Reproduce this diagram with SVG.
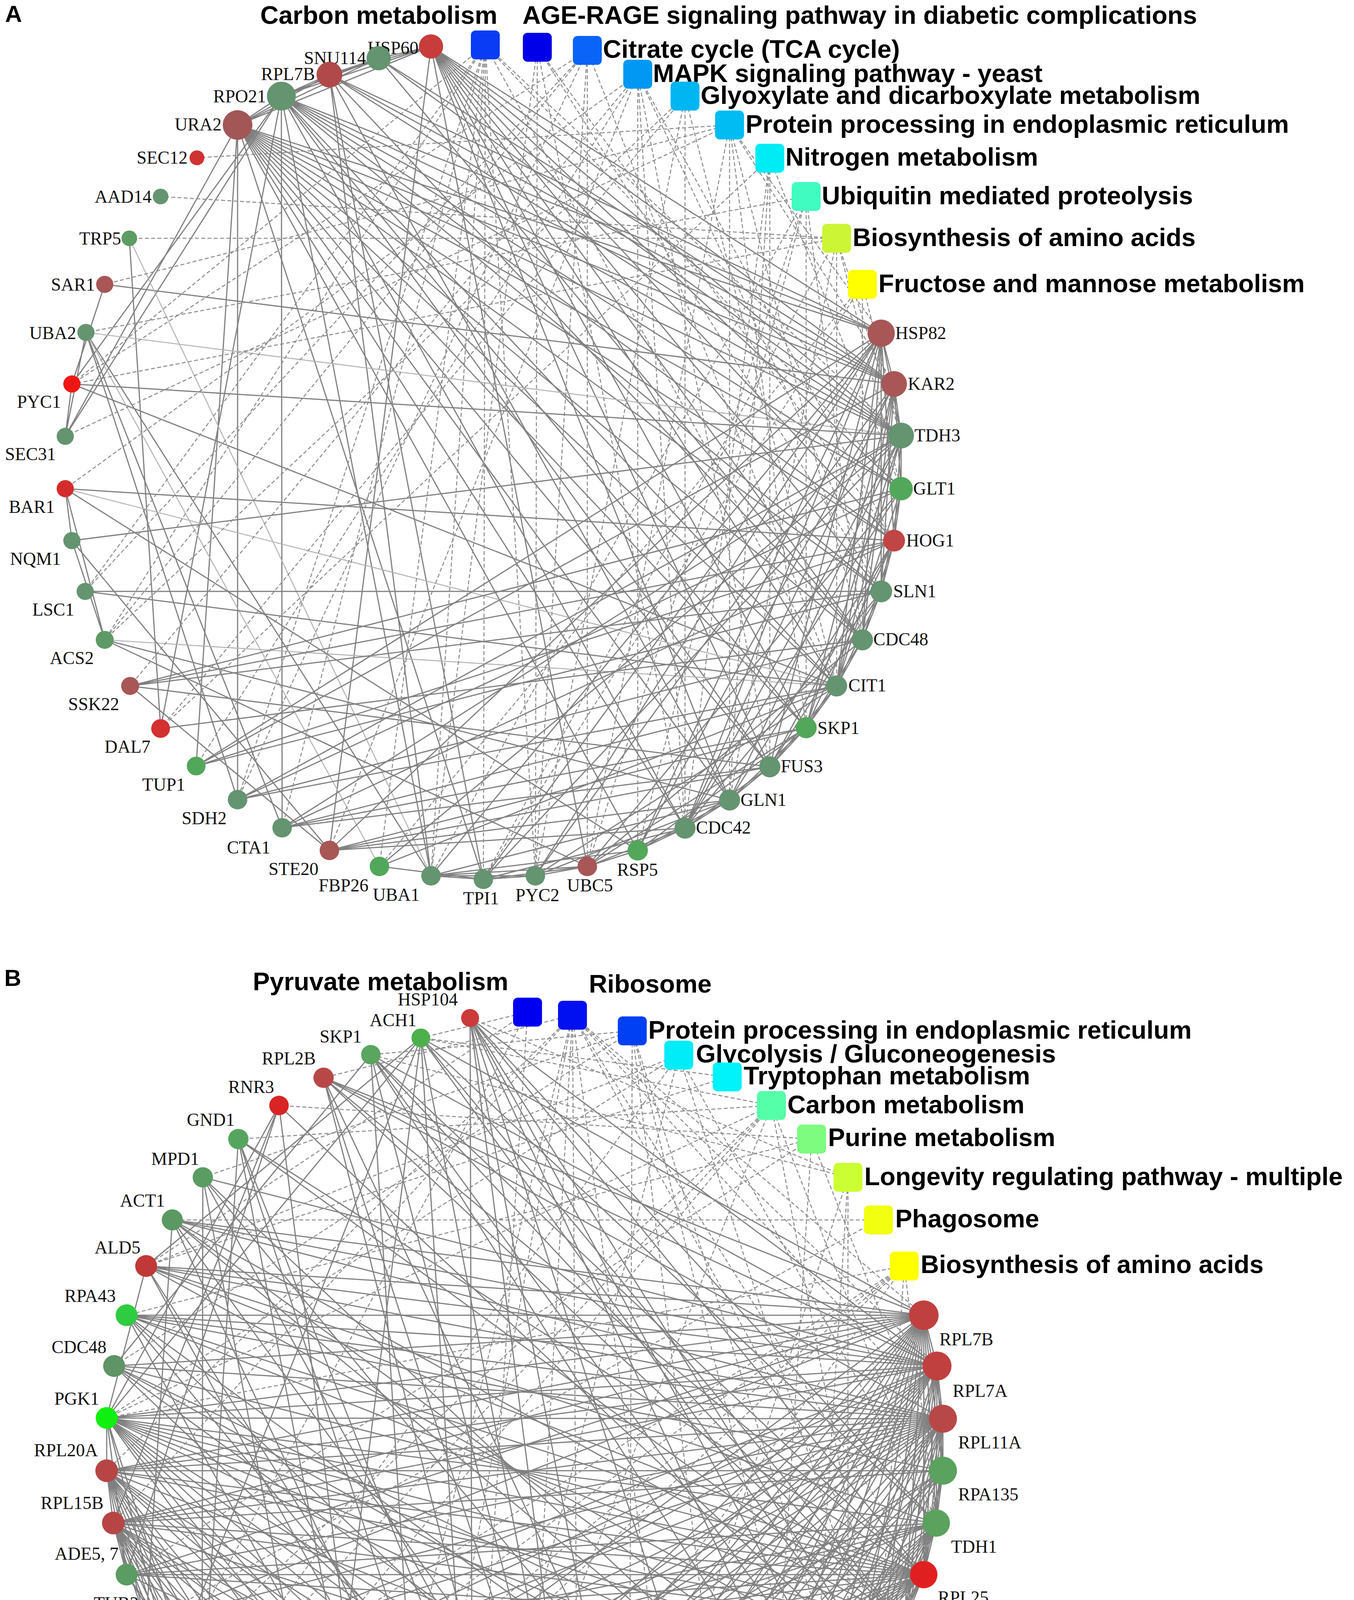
<svg xmlns="http://www.w3.org/2000/svg" width="3465" height="4852" viewBox="0 0 3465 4852">
<style>
.e{stroke:#808080;stroke-width:3;fill:none}
.el{stroke:#b4b4b4;stroke-width:2.6;fill:none}
.d{stroke:#8c8c8c;stroke-width:2.6;fill:none;stroke-dasharray:10 6}
.lbl{font-family:"Liberation Serif","Times New Roman",serif;font-size:46px;fill:#111}
.pw{font-family:"Liberation Sans",Arial,sans-serif;font-weight:bold;font-size:65px;fill:#000}
.pan{font-family:"Liberation Sans",Arial,sans-serif;font-weight:bold;font-size:60px;fill:#000}
</style>
<rect width="3465" height="4852" fill="#fff"/>
<g id="connectors">
<g id="A-solid">
<path class="e" d="M608 320L2255 853M608 320L2288 983M608 320L2306 1115M608 320L2306 1251M608 320L2288 1384M608 320L2255 1514M608 320L2207 1638M608 320L2141 1756M608 320L2063 1863M608 320L1970 1963M608 320L1867 2048M608 320L1753 2120M608 320L1632 2177M608 320L1237 2251M608 320L608 2047M608 320L167 1117M608 320L502 1961M608 320L720 246M608 320L843 191M608 320L969 149M608 320L1103 119"/>
<path class="e" d="M720 246L2255 853M720 246L2288 983M720 246L2306 1115M720 246L2306 1251M720 246L2288 1384M720 246L2255 1514M720 246L2141 1756M720 246L2063 1863M720 246L1970 1963M720 246L1753 2120M720 246L1103 2242M720 246L722 2119M720 246L167 1117M720 246L184 983M720 246L843 191M720 246L969 149M720 246L1103 119M720 246L411 1865"/>
<path class="e" d="M843 191L2255 853M843 191L2306 1115M843 191L2288 983M843 191L1867 2048M843 191L1237 2251M843 191L1103 2242M843 191L969 149M843 191L1103 119M843 191L2207 1638"/>
<path class="e" d="M969 149L1103 119M969 149L2288 983M969 149L2306 1115M969 149L2207 1638"/>
<path class="e" d="M1103 119L2255 853M1103 119L2288 983M1103 119L2306 1115M1103 119L2306 1251M1103 119L2288 1384M1103 119L2255 1514M1103 119L2207 1638M1103 119L2141 1756M1103 119L2063 1863M1103 119L1970 1963M1103 119L1867 2048M1103 119L843 2177M1103 119L1503 2218"/>
<path class="e" d="M268 728L2288 983M268 728L184 983M220 851L608 2047M220 851L722 2119M220 851L1103 2242M220 851L167 1117M331 610L411 1865M184 983L2306 1115M184 983L2141 1756M184 983L167 1117"/>
<path class="el" d="M220 851L971 2218M331 610L1103 2242M220 851L2306 1115M167 1251L2141 1756M268 1638L2141 1756"/>
<path class="e" d="M167 1251L2288 1384M167 1251L184 1384M167 1251L268 1638M167 1251L1632 2177M184 1384L2306 1115M184 1384L268 1638M184 1384L843 2177M218 1514L2141 1756M218 1514L2255 1514M268 1638L1503 2218M268 1638L1867 2048"/>
<path class="e" d="M333 1756L2288 1384M333 1756L2306 1251M333 1756L1970 1963M333 1756L843 2177M333 1756L2255 1514M411 1865L2207 1638M502 1961L2288 1384M502 1961L2255 1514M502 1961L2288 983M502 1961L2255 853"/>
<path class="e" d="M608 2047L2141 1756M608 2047L2306 1251M608 2047L2207 1638M608 2047L2306 1115M722 2119L2063 1863M722 2119L1970 1963M722 2119L2141 1756M722 2119L2288 1384M722 2119L2306 1115"/>
<path class="e" d="M843 2177L2063 1863M843 2177L1970 1963M843 2177L2255 853M843 2177L1867 2048M843 2177L1753 2120M971 2218L2306 1115M971 2218L2141 1756M971 2218L1237 2251"/>
<path class="e" d="M1103 2242L1237 2251M1103 2242L1370 2242M1103 2242L2255 853M1103 2242L1867 2048M1103 2242L1632 2177M1103 2242L1503 2218M1237 2251L1370 2242M1237 2251L2306 1115M1237 2251L2255 853M1237 2251L1753 2120M1237 2251L1503 2218"/>
<path class="e" d="M1370 2242L1503 2218M1370 2242L2141 1756M1370 2242L1867 2048M1370 2242L2255 853M1370 2242L2288 983M1503 2218L1632 2177M1503 2218L2063 1863M1503 2218L2207 1638M1503 2218L2306 1251M1503 2218L1753 2120"/>
<path class="e" d="M1632 2177L1753 2120M1632 2177L2063 1863M1632 2177L2255 853M1632 2177L2288 983M1632 2177L1867 2048M1753 2120L1867 2048M1753 2120L1970 1963M1753 2120L2288 983M1753 2120L2255 853M1753 2120L2306 1251M1753 2120L2255 1514M1753 2120L2306 1115"/>
<path class="e" d="M1867 2048L1970 1963M1867 2048L2063 1863M1867 2048L2306 1115M1867 2048L2288 1384M1970 1963L2063 1863M1970 1963L2141 1756M1970 1963L2255 853M1970 1963L2288 1384M1970 1963L2255 1514"/>
<path class="e" d="M2063 1863L2141 1756M2063 1863L2306 1115M2063 1863L2288 983M2063 1863L2207 1638M2063 1863L2288 1384M2141 1756L2207 1638M2141 1756L2255 1514M2141 1756L2306 1115M2141 1756L2288 983M2141 1756L2255 853M2141 1756L2306 1251"/>
<path class="e" d="M2207 1638L2255 1514M2207 1638L2288 983M2207 1638L2255 853M2207 1638L2288 1384M2255 1514L2288 1384M2255 1514L2306 1251M2255 1514L2255 853M2255 1514L2288 983M2288 1384L2306 1251M2288 1384L2306 1115M2288 1384L2255 853M2306 1251L2306 1115M2306 1251L2288 983M2306 1115L2288 983M2306 1115L2255 853M2288 983L2255 853"/>
</g>
<g id="A-dashed">
<path class="d" d="M1242 115L1237 2251M1242 115L1370 2242M1242 115L2141 1756M1242 115L2306 1115M1242 115L608 2047M1242 115L971 2218M1242 115L184 983M1242 115L268 1638M1242 115L218 1514M1242 115L2306 1251M1242 115L722 2119M1242 115L1103 2242"/>
<path class="d" d="M1375 121L1370 2242M1375 121L2288 1384M1375 121L1103 2242M1375 121L1753 2120M1375 121L2255 1514"/>
<path class="d" d="M1503 129L1503 2218M1503 129L2141 1756M1503 129L608 2047M1503 129L218 1514M1503 129L184 983M1503 129L1370 2242M1503 129L268 1638"/>
<path class="d" d="M1632 190L1632 2177M1632 190L1970 1963M1632 190L2255 1514M1632 190L2288 1384M1632 190L333 1756M1632 190L843 2177M1632 190L167 1251M1632 190L1753 2120M1632 190L502 1961"/>
<path class="d" d="M1753 246L1753 2120M1753 246L2141 1756M1753 246L268 1638M1753 246L411 1865M1753 246L1370 2242"/>
<path class="d" d="M1867 320L1867 2048M1867 320L504 404M1867 320L268 728M1867 320L167 1117M1867 320L2288 983M1867 320L2255 853M1867 320L2207 1638M1867 320L1503 2218M1867 320L2063 1863"/>
<path class="d" d="M1970 405L1970 1963M1970 405L1867 2048M1970 405L2306 1251M1970 405L411 1865M1970 405L1753 2120"/>
<path class="d" d="M2063 503L2063 1863M2063 503L1103 2242M2063 503L1503 2218M2063 503L220 851M2063 503L1632 2177M2063 503L2207 1638"/>
<path class="d" d="M2141 610L2141 1756M2141 610L331 610M2141 610L411 503M2141 610L1867 2048M2141 610L2306 1251M2141 610L2306 1115M2141 610L1237 2251M2141 610L184 983"/>
<path class="d" d="M2207 728L2207 1638M2207 728L971 2218M2207 728L1237 2251M2207 728L2306 1115"/>
</g>
<g id="B-solid">
<path class="e" d="M273 3765L290 3899M273 3765L949 4695M273 3765L1077 4736M273 3765L1343 4771M273 3765L1479 4761M273 3765L1737 4695M273 3765L2314 4155M273 3765L2364 4031M273 3765L2413 3632M273 3765L2398 3497M273 3765L2364 3367"/>
<path class="e" d="M290 3899L949 4695M290 3899L1077 4736M290 3899L1343 4771M290 3899L1479 4761M290 3899L1737 4695M290 3899L2314 4155M290 3899L2364 4031M290 3899L2413 3632M290 3899L2398 3497M290 3899L2364 3367"/>
<path class="e" d="M949 4695L1077 4736M949 4695L1343 4771M949 4695L1479 4761M949 4695L1737 4695M949 4695L2314 4155M949 4695L2364 4031M949 4695L2413 3632M949 4695L2398 3497M949 4695L2364 3367"/>
<path class="e" d="M1077 4736L1343 4771M1077 4736L1479 4761M1077 4736L1737 4695M1077 4736L2314 4155M1077 4736L2364 4031M1077 4736L2413 3632M1077 4736L2398 3497M1077 4736L2364 3367"/>
<path class="e" d="M1343 4771L1479 4761M1343 4771L1737 4695M1343 4771L2314 4155M1343 4771L2364 4031M1343 4771L2413 3632M1343 4771L2398 3497M1343 4771L2364 3367"/>
<path class="e" d="M1479 4761L1737 4695M1479 4761L2314 4155M1479 4761L2364 4031M1479 4761L2413 3632M1479 4761L2398 3497M1479 4761L2364 3367"/>
<path class="e" d="M1737 4695L2314 4155M1737 4695L2364 4031M1737 4695L2413 3632M1737 4695L2398 3497M1737 4695L2364 3367M2314 4155L2364 4031M2314 4155L2413 3632M2314 4155L2398 3497M2314 4155L2364 3367M2364 4031L2413 3632M2364 4031L2398 3497M2364 4031L2364 3367M2413 3632L2398 3497M2413 3632L2364 3367M2398 3497L2364 3367"/>
<path class="e" d="M828 2759L2364 3367M828 2759L2398 3497M828 2759L2413 3632M828 2759L2364 4031M828 2759L2314 4155M828 2759L1737 4695M828 2759L1479 4761M828 2759L1343 4771"/>
<path class="e" d="M2413 3765L273 3765M2413 3765L290 3899M2413 3765L949 4695M2413 3765L1077 4736M2413 3765L1343 4771M2413 3765L1479 4761M2413 3765L1737 4695M2413 3765L2314 4155M2413 3765L2364 4031M2413 3765L2413 3632M2413 3765L2398 3497M2413 3765L2364 3367M2413 3765L324 3367M2413 3765L1974 4566M2413 3765L2396 3899"/>
<path class="e" d="M324 3367L2364 3367M324 3367L2398 3497M324 3367L2413 3632M324 3367L2364 4031M324 3367L2314 4155M324 3367L1737 4695M324 3367L1479 4761M324 3367L1077 4736M1974 4566L324 3367M1974 4566L2364 3367M1974 4566L2170 4382M1974 4566L2396 3899"/>
<path class="e" d="M2170 4382L2077 4480M2170 4382L1610 4736M2170 4382L1861 4637M2170 4382L1203 2606M2170 4382L2364 3367M2170 4382L2398 3497M2170 4382L2413 3632M2170 4382L2364 4031M2170 4382L2396 3899M2170 4382L2248 4273M2170 4382L273 3630M2170 4382L1209 4761M2170 4382L441 3123M2170 4382L374 4155M2170 4382L949 2700M2170 4382L292 3497M2170 4382L1479 4761"/>
<path class="e" d="M2077 4480L1610 4736M2077 4480L1861 4637M2077 4480L1203 2606M2077 4480L273 3765M2077 4480L290 3899M2077 4480L949 4695M2077 4480L1077 4736M2077 4480L1343 4771M2077 4480L1479 4761M2077 4480L1737 4695M2077 4480L2314 4155M2077 4480L2364 4031M2077 4480L2413 3632M2077 4480L2398 3497M2077 4480L2364 3367M2077 4480L2396 3899M2077 4480L2248 4273M2077 4480L273 3630M2077 4480L1209 4761M2077 4480L517 4382M2077 4480L441 3123"/>
<path class="e" d="M1610 4736L1861 4637M1610 4736L1203 2606M1610 4736L2364 3367M1610 4736L2398 3497M1610 4736L2413 3632M1610 4736L2314 4155M1610 4736L2364 4031M1610 4736L2396 3899M1610 4736L2248 4273M1610 4736L273 3630M1610 4736L1209 4761M1610 4736L273 3765M1610 4736L290 3899"/>
<path class="e" d="M1861 4637L1203 2606M1861 4637L2364 3367M1861 4637L2413 3632M1861 4637L2314 4155M1861 4637L2396 3899M1861 4637L2248 4273M1861 4637L519 3014M1861 4637L292 3497M1861 4637L273 3630M1203 2606L2396 3899M1203 2606L2364 4031M1203 2606L1479 4761M1203 2606L2248 4273M1203 2606L1209 4761M1203 2606L2398 3497"/>
<path class="e" d="M2396 3899L2248 4273M2396 3899L273 3630M2396 3899L1209 4761M2396 3899L517 4382M2396 3899L439 4273M2396 3899L374 3241M2396 3899L610 4480M2396 3899L324 4031M2396 3899L2364 3367M2396 3899L2398 3497M2396 3899L2413 3632M2396 3899L2364 4031M2396 3899L2314 4155M2396 3899L1737 4695M2396 3899L1479 4761M2396 3899L714 4566"/>
<path class="e" d="M2248 4273L273 3630M2248 4273L1209 4761M2248 4273L517 4382M2248 4273L439 4273M2248 4273L2364 3367M2248 4273L2398 3497M2248 4273L2413 3632M2248 4273L2364 4031M2248 4273L2314 4155M2248 4273L1737 4695M2248 4273L1479 4761M2248 4273L1343 4771M2248 4273L1077 4736"/>
<path class="e" d="M273 3630L1209 4761M273 3630L517 4382M273 3630L2364 3367M273 3630L2398 3497M273 3630L2413 3632M273 3630L2364 4031M273 3630L2314 4155M273 3630L1737 4695M273 3630L1479 4761M273 3630L1343 4771M273 3630L1077 4736M273 3630L374 3241M273 3630L439 4273M273 3630L324 4031M273 3630L273 3765"/>
<path class="e" d="M1209 4761L517 4382M1209 4761L439 4273M1209 4761L374 3241M1209 4761L610 2916M1209 4761L1077 2657M1209 4761L2364 3367M1209 4761L2398 3497M1209 4761L2364 4031M1209 4761L2314 4155M517 4382L439 4273M517 4382L610 4480M517 4382L610 2916M517 4382L2398 3497M517 4382L2413 3632M517 4382L2364 4031M517 4382L2314 4155M517 4382L1737 4695M517 4382L1479 4761"/>
<path class="e" d="M441 3123L374 4155M441 3123L2364 3367M441 3123L2398 3497M441 3123L2413 3632M441 3123L1610 4736M441 3123L1209 4761M441 3123L2314 4155M374 4155L2364 3367M374 4155L2413 3632M374 4155L1479 4761M374 4155L2364 4031M374 4155L1343 4771M374 4155L2248 4273"/>
<path class="e" d="M439 4273L2398 3497M439 4273L2413 3632M439 4273L610 4480M439 4273L2364 4031M439 4273L2314 4155M439 4273L1077 2657M610 4480L714 4566M610 4480L828 4637M610 4480L2398 3497M610 4480L2314 4155M610 4480L2413 3632M610 4480L324 4031M714 4566L828 4637M714 4566L2364 3367M714 4566L2364 4031M714 4566L2413 3632M714 4566L324 4031"/>
<path class="e" d="M828 4637L2398 3497M828 4637L2314 4155M828 4637L2413 3632M828 4637L2364 4031M828 4637L1077 2657M324 4031L2364 3367M324 4031L2413 3632M324 4031L2364 4031M324 4031L2314 4155M324 4031L714 2830M324 4031L1737 4695"/>
<path class="e" d="M714 2830L290 3899M714 2830L949 4695M714 2830L2248 4273M714 2830L273 3630M610 2916L2364 4031M610 2916L2314 4155M610 2916L1343 4771M610 2916L949 4695M519 3014L517 4382M519 3014L2398 3497M519 3014L1479 4761M519 3014L2077 4480M519 3014L828 4637"/>
<path class="e" d="M374 3241L2364 3367M374 3241L2398 3497M374 3241L2413 3632M374 3241L2364 4031M374 3241L2248 4273M374 3241L1077 2657M374 3241L1343 4771M949 2700L2398 3497M949 2700L2314 4155M949 2700L292 3497M949 2700L2364 4031M949 2700L1479 4761M949 2700L2077 4480M949 2700L1077 4736"/>
<path class="e" d="M292 3497L2364 3367M292 3497L2413 3632M292 3497L2077 4480M292 3497L2364 4031M292 3497L1610 4736M1077 2657L2364 3367M1077 2657L2314 4155M1077 2657L2248 4273M1077 2657L2396 3899M1077 2657L1479 4761M1077 2657L273 3630"/>
<path class="e" d="M273 3765L324 4031M273 3765L374 4155M273 3765L439 4273M273 3765L517 4382M273 3765L610 4480M273 3765L714 4566M273 3765L828 4637M290 3899L324 4031M290 3899L374 4155M290 3899L439 4273M290 3899L517 4382M290 3899L610 4480M290 3899L714 4566M290 3899L828 4637"/>
</g>
<g id="B-dashed">
<path class="d" d="M1350 2591L1077 2657M1350 2591L374 3241M1350 2591L439 4273M1350 2591L1209 4761"/>
<path class="d" d="M1465 2599L828 2759M1465 2599L273 3765M1465 2599L290 3899M1465 2599L949 4695M1465 2599L1077 4736M1465 2599L1343 4771M1465 2599L1479 4761M1465 2599L1737 4695M1465 2599L2314 4155M1465 2599L2364 4031M1465 2599L2413 3632M1465 2599L2398 3497M1465 2599L2364 3367"/>
<path class="d" d="M1618 2639L1861 4637M1618 2639L2170 4382M1618 2639L2077 4480M1618 2639L1610 4736M1618 2639L949 2700M1618 2639L292 3497M1618 2639L519 3014"/>
<path class="d" d="M1737 2701L2396 3899M1737 2701L2248 4273M1737 2701L273 3630M1737 2701L1209 4761M1737 2701L517 4382M1737 2701L374 3241M1861 2757L374 3241M1861 2757L1077 2657"/>
<path class="d" d="M1974 2830L2396 3899M1974 2830L2248 4273M1974 2830L273 3630M1974 2830L1209 4761M1974 2830L517 4382M1974 2830L439 4273M1974 2830L610 2916M1974 2830L610 4480M1974 2830L1077 2657"/>
<path class="d" d="M2077 2916L324 4031M2077 2916L714 2830M2077 2916L324 3367M2077 2916L2413 3765M2077 2916L1974 4566M2170 3014L2170 4382M2170 3014L2077 4480M2170 3014L1610 4736M2170 3014L1203 2606M2170 3014L949 2700M2248 3123L441 3123M2248 3123L374 4155"/>
<path class="d" d="M2314 3241L2396 3899M2314 3241L2248 4273M2314 3241L273 3630M2314 3241L1209 4761M2314 3241L517 4382M2314 3241L714 4566M2314 3241L828 4637M2314 3241L610 4480"/>
</g>
</g>
<text class="pan" x="13" y="56">A</text>
<text class="pan" x="11" y="2524">B</text>
<g id="A-pathways">
<g id="A-P1"><rect x="1205" y="78" width="74" height="74" rx="12" fill="#0a3cf5"/><text class="pw" x="666" y="61">Carbon metabolism</text></g>
<g id="A-P2"><rect x="1338" y="84" width="74" height="74" rx="12" fill="#0000e8"/><text class="pw" x="1337" y="61">AGE-RAGE signaling pathway in diabetic complications</text></g>
<g id="A-P3"><rect x="1466" y="92" width="74" height="74" rx="12" fill="#0a64f8"/><text class="pw" x="1543" y="148">Citrate cycle (TCA cycle)</text></g>
<g id="A-P4"><rect x="1595" y="153" width="74" height="74" rx="12" fill="#0098f2"/><text class="pw" x="1671" y="210">MAPK signaling pathway - yeast</text></g>
<g id="A-P5"><rect x="1716" y="209" width="74" height="74" rx="12" fill="#00b6f2"/><text class="pw" x="1793" y="266">Glyoxylate and dicarboxylate metabolism</text></g>
<g id="A-P6"><rect x="1830" y="283" width="74" height="74" rx="12" fill="#00bcf2"/><text class="pw" x="1908" y="340">Protein processing in endoplasmic reticulum</text></g>
<g id="A-P7"><rect x="1933" y="368" width="74" height="74" rx="12" fill="#00ecf5"/><text class="pw" x="2010" y="424">Nitrogen metabolism</text></g>
<g id="A-P8"><rect x="2026" y="466" width="74" height="74" rx="12" fill="#40fcc0"/><text class="pw" x="2103" y="523">Ubiquitin mediated proteolysis</text></g>
<g id="A-P9"><rect x="2104" y="573" width="74" height="74" rx="12" fill="#ccf535"/><text class="pw" x="2182" y="630">Biosynthesis of amino acids</text></g>
<g id="A-P10"><rect x="2170" y="691" width="74" height="74" rx="12" fill="#ffff00"/><text class="pw" x="2248" y="748">Fructose and mannose metabolism</text></g>
</g>
<g id="A-nodes">
<g id="A-HSP60"><circle cx="1103" cy="119" r="31" fill="#c83c3c"/><text class="lbl" x="1071" y="138" text-anchor="end">HSP60</text></g>
<g id="A-SNU114"><circle cx="969" cy="149" r="31" fill="#649470"/><text class="lbl" x="937" y="164" text-anchor="end">SNU114</text></g>
<g id="A-RPL7B"><circle cx="843" cy="191" r="33" fill="#b04a4a"/><text class="lbl" x="806" y="205" text-anchor="end">RPL7B</text></g>
<g id="A-RPO21"><circle cx="720" cy="246" r="37" fill="#649470"/><text class="lbl" x="681" y="262" text-anchor="end">RPO21</text></g>
<g id="A-URA2"><circle cx="608" cy="320" r="38" fill="#a35656"/><text class="lbl" x="567" y="334" text-anchor="end">URA2</text></g>
<g id="A-SEC12"><circle cx="504" cy="404" r="19" fill="#d03232"/><text class="lbl" x="480" y="419" text-anchor="end">SEC12</text></g>
<g id="A-AAD14"><circle cx="411" cy="503" r="20" fill="#649470"/><text class="lbl" x="388" y="519" text-anchor="end">AAD14</text></g>
<g id="A-TRP5"><circle cx="331" cy="610" r="20" fill="#5d9c62"/><text class="lbl" x="310" y="626" text-anchor="end">TRP5</text></g>
<g id="A-SAR1"><circle cx="268" cy="728" r="22" fill="#a85656"/><text class="lbl" x="243" y="744" text-anchor="end">SAR1</text></g>
<g id="A-UBA2"><circle cx="220" cy="851" r="22" fill="#649470"/><text class="lbl" x="195" y="868" text-anchor="end">UBA2</text></g>
<g id="A-PYC1"><circle cx="184" cy="983" r="22" fill="#f01515"/><text class="lbl" x="156" y="1044" text-anchor="end">PYC1</text></g>
<g id="A-SEC31"><circle cx="167" cy="1117" r="22" fill="#649470"/><text class="lbl" x="143" y="1178" text-anchor="end">SEC31</text></g>
<g id="A-BAR1"><circle cx="167" cy="1251" r="22" fill="#d42c2c"/><text class="lbl" x="140" y="1313" text-anchor="end">BAR1</text></g>
<g id="A-NQM1"><circle cx="184" cy="1384" r="22" fill="#649470"/><text class="lbl" x="156" y="1446" text-anchor="end">NQM1</text></g>
<g id="A-LSC1"><circle cx="218" cy="1514" r="22" fill="#649470"/><text class="lbl" x="190" y="1576" text-anchor="end">LSC1</text></g>
<g id="A-ACS2"><circle cx="268" cy="1638" r="23" fill="#5e9a66"/><text class="lbl" x="240" y="1700" text-anchor="end">ACS2</text></g>
<g id="A-SSK22"><circle cx="333" cy="1756" r="23" fill="#a85656"/><text class="lbl" x="305" y="1818" text-anchor="end">SSK22</text></g>
<g id="A-DAL7"><circle cx="411" cy="1865" r="24" fill="#d43030"/><text class="lbl" x="385" y="1927" text-anchor="end">DAL7</text></g>
<g id="A-TUP1"><circle cx="502" cy="1961" r="24" fill="#52a75a"/><text class="lbl" x="474" y="2024" text-anchor="end">TUP1</text></g>
<g id="A-SDH2"><circle cx="608" cy="2047" r="25" fill="#649470"/><text class="lbl" x="580" y="2110" text-anchor="end">SDH2</text></g>
<g id="A-CTA1"><circle cx="722" cy="2119" r="25" fill="#649470"/><text class="lbl" x="692" y="2185" text-anchor="end">CTA1</text></g>
<g id="A-STE20"><circle cx="843" cy="2177" r="25" fill="#a85656"/><text class="lbl" x="815" y="2240" text-anchor="end">STE20</text></g>
<g id="A-FBP26"><circle cx="971" cy="2218" r="25" fill="#52a75a"/><text class="lbl" x="943" y="2282" text-anchor="end">FBP26</text></g>
<g id="A-UBA1"><circle cx="1103" cy="2242" r="25" fill="#649470"/><text class="lbl" x="1074" y="2306" text-anchor="end">UBA1</text></g>
<g id="A-TPI1"><circle cx="1237" cy="2251" r="25" fill="#649470"/><text class="lbl" x="1185" y="2315">TPI1</text></g>
<g id="A-PYC2"><circle cx="1370" cy="2242" r="25" fill="#649470"/><text class="lbl" x="1319" y="2307">PYC2</text></g>
<g id="A-UBC5"><circle cx="1503" cy="2218" r="25" fill="#a85656"/><text class="lbl" x="1451" y="2282">UBC5</text></g>
<g id="A-RSP5"><circle cx="1632" cy="2177" r="26" fill="#52a75a"/><text class="lbl" x="1579" y="2242">RSP5</text></g>
<g id="A-CDC42"><circle cx="1753" cy="2120" r="27" fill="#649470"/><text class="lbl" x="1781" y="2134">CDC42</text></g>
<g id="A-GLN1"><circle cx="1867" cy="2048" r="27" fill="#649470"/><text class="lbl" x="1895" y="2063">GLN1</text></g>
<g id="A-FUS3"><circle cx="1970" cy="1963" r="27" fill="#649470"/><text class="lbl" x="1998" y="1977">FUS3</text></g>
<g id="A-SKP1"><circle cx="2063" cy="1863" r="27" fill="#52a75a"/><text class="lbl" x="2092" y="1879">SKP1</text></g>
<g id="A-CIT1"><circle cx="2141" cy="1756" r="27" fill="#649470"/><text class="lbl" x="2171" y="1770">CIT1</text></g>
<g id="A-CDC48"><circle cx="2207" cy="1638" r="27" fill="#649470"/><text class="lbl" x="2235" y="1652">CDC48</text></g>
<g id="A-SLN1"><circle cx="2255" cy="1514" r="28" fill="#649470"/><text class="lbl" x="2286" y="1529">SLN1</text></g>
<g id="A-HOG1"><circle cx="2288" cy="1384" r="28" fill="#c04545"/><text class="lbl" x="2319" y="1399">HOG1</text></g>
<g id="A-GLT1"><circle cx="2306" cy="1251" r="30" fill="#52a75a"/><text class="lbl" x="2337" y="1266">GLT1</text></g>
<g id="A-TDH3"><circle cx="2306" cy="1115" r="33" fill="#649470"/><text class="lbl" x="2340" y="1130">TDH3</text></g>
<g id="A-KAR2"><circle cx="2288" cy="983" r="33" fill="#a85656"/><text class="lbl" x="2323" y="998">KAR2</text></g>
<g id="A-HSP82"><circle cx="2255" cy="853" r="35" fill="#a85656"/><text class="lbl" x="2291" y="868">HSP82</text></g>
</g>
<g id="B-pathways">
<g id="B-P1"><rect x="1313" y="2554" width="74" height="74" rx="12" fill="#0000f0"/><text class="pw" x="647" y="2535">Pyruvate metabolism</text></g>
<g id="B-P2"><rect x="1428" y="2562" width="74" height="74" rx="12" fill="#0010f0"/><text class="pw" x="1507" y="2541">Ribosome</text></g>
<g id="B-P3"><rect x="1581" y="2602" width="74" height="74" rx="12" fill="#0040f5"/><text class="pw" x="1659" y="2659">Protein processing in endoplasmic reticulum</text></g>
<g id="B-P4"><rect x="1700" y="2664" width="74" height="74" rx="12" fill="#00ecf8"/><text class="pw" x="1781" y="2720">Glycolysis / Gluconeogenesis</text></g>
<g id="B-P5"><rect x="1824" y="2720" width="74" height="74" rx="12" fill="#00f2fa"/><text class="pw" x="1903" y="2776">Tryptophan metabolism</text></g>
<g id="B-P6"><rect x="1937" y="2793" width="74" height="74" rx="12" fill="#55ffaa"/><text class="pw" x="2015" y="2850">Carbon metabolism</text></g>
<g id="B-P7"><rect x="2040" y="2879" width="74" height="74" rx="12" fill="#7dfc80"/><text class="pw" x="2119" y="2934">Purine metabolism</text></g>
<g id="B-P8"><rect x="2133" y="2977" width="74" height="74" rx="12" fill="#ccff33"/><text class="pw" x="2212" y="3034">Longevity regulating pathway - multiple</text></g>
<g id="B-P9"><rect x="2211" y="3086" width="74" height="74" rx="12" fill="#f2ff10"/><text class="pw" x="2291" y="3142">Phagosome</text></g>
<g id="B-P10"><rect x="2277" y="3204" width="74" height="74" rx="12" fill="#ffff00"/><text class="pw" x="2356" y="3259">Biosynthesis of amino acids</text></g>
</g>
<g id="B-nodes">
<g id="B-HSP104"><circle cx="1203" cy="2606" r="23" fill="#cc3a3a"/><text class="lbl" x="1018" y="2574">HSP104</text></g>
<g id="B-ACH1"><circle cx="1077" cy="2657" r="24" fill="#4cb04c"/><text class="lbl" x="946" y="2627">ACH1</text></g>
<g id="B-SKP1"><circle cx="949" cy="2700" r="25" fill="#5aa560"/><text class="lbl" x="818" y="2669">SKP1</text></g>
<g id="B-RPL2B"><circle cx="828" cy="2759" r="26" fill="#b84848"/><text class="lbl" x="670" y="2725">RPL2B</text></g>
<g id="B-RNR3"><circle cx="714" cy="2830" r="25" fill="#d82424"/><text class="lbl" x="584" y="2798">RNR3</text></g>
<g id="B-GND1"><circle cx="610" cy="2916" r="26" fill="#55a55e"/><text class="lbl" x="478" y="2882">GND1</text></g>
<g id="B-MPD1"><circle cx="519" cy="3014" r="26" fill="#5a9c62"/><text class="lbl" x="387" y="2982">MPD1</text></g>
<g id="B-ACT1"><circle cx="441" cy="3123" r="27" fill="#5a9a62"/><text class="lbl" x="307" y="3089">ACT1</text></g>
<g id="B-ALD5"><circle cx="374" cy="3241" r="28" fill="#c03838"/><text class="lbl" x="242" y="3209">ALD5</text></g>
<g id="B-RPA43"><circle cx="324" cy="3367" r="28" fill="#2ecc40"/><text class="lbl" x="165" y="3333">RPA43</text></g>
<g id="B-CDC48"><circle cx="292" cy="3497" r="28" fill="#5e9466"/><text class="lbl" x="132" y="3464">CDC48</text></g>
<g id="B-PGK1"><circle cx="273" cy="3630" r="28" fill="#10f010"/><text class="lbl" x="139" y="3596">PGK1</text></g>
<g id="B-RPL20A"><circle cx="273" cy="3765" r="29" fill="#b84545"/><text class="lbl" x="87" y="3728">RPL20A</text></g>
<g id="B-RPL15B"><circle cx="290" cy="3899" r="29" fill="#b84545"/><text class="lbl" x="104" y="3863">RPL15B</text></g>
<g id="B-ADE57"><circle cx="324" cy="4031" r="28" fill="#5a9c62"/><text class="lbl" x="140" y="3993">ADE5, 7</text></g>
<g id="B-TUB2"><circle cx="374" cy="4155" r="28" fill="#55a55e"/><text class="lbl" x="240" y="4120">TUB2</text></g>
<g id="B-MDH1"><circle cx="439" cy="4273" r="28" fill="#5aa25e"/><text class="lbl" x="304" y="4234">MDH1</text></g>
<g id="B-TPI1"><circle cx="517" cy="4382" r="29" fill="#4cb050"/><text class="lbl" x="385" y="4346">TPI1</text></g>
<g id="B-GLT1"><circle cx="610" cy="4480" r="29" fill="#5aa05e"/><text class="lbl" x="474" y="4546">GLT1</text></g>
<g id="B-HIS3"><circle cx="714" cy="4566" r="29" fill="#5a9c62"/><text class="lbl" x="578" y="4632">HIS3</text></g>
<g id="B-LEU1"><circle cx="828" cy="4637" r="29" fill="#4cb050"/><text class="lbl" x="692" y="4705">LEU1</text></g>
<g id="B-RPS11B"><circle cx="949" cy="4695" r="30" fill="#b84545"/><text class="lbl" x="759" y="4765">RPS11B</text></g>
<g id="B-RPL10"><circle cx="1077" cy="4736" r="30" fill="#e02020"/><text class="lbl" x="915" y="4807">RPL10</text></g>
<g id="B-CDC19"><circle cx="1209" cy="4761" r="31" fill="#55a85e"/><text class="lbl" x="1114" y="4829">CDC19</text></g>
<g id="B-RPS16B"><circle cx="1343" cy="4771" r="31" fill="#b84545"/><text class="lbl" x="1295" y="4837">RPS16B</text></g>
<g id="B-RPS23B"><circle cx="1479" cy="4761" r="33" fill="#ee1515"/><text class="lbl" x="1512" y="4829">RPS23B</text></g>
<g id="B-SSA4"><circle cx="1610" cy="4736" r="32" fill="#55a85e"/><text class="lbl" x="1646" y="4748">SSA4</text></g>
<g id="B-RPL8A"><circle cx="1737" cy="4695" r="33" fill="#b84545"/><text class="lbl" x="1773" y="4769">RPL8A</text></g>
<g id="B-KAR2"><circle cx="1861" cy="4637" r="33" fill="#2ed02e"/><text class="lbl" x="1895" y="4712">KAR2</text></g>
<g id="B-RPO21"><circle cx="1974" cy="4566" r="33" fill="#4cb050"/><text class="lbl" x="2007" y="4640">RPO21</text></g>
<g id="B-SSA1"><circle cx="2077" cy="4480" r="33" fill="#5aa25e"/><text class="lbl" x="2113" y="4554">SSA1</text></g>
<g id="B-HSP82"><circle cx="2170" cy="4382" r="34" fill="#e02020"/><text class="lbl" x="2203" y="4455">HSP82</text></g>
<g id="B-ENO1"><circle cx="2248" cy="4273" r="34" fill="#5aa25e"/><text class="lbl" x="2283" y="4348">ENO1</text></g>
<g id="B-RPS9B"><circle cx="2314" cy="4155" r="34" fill="#c04040"/><text class="lbl" x="2351" y="4230">RPS9B</text></g>
<g id="B-RPL25"><circle cx="2364" cy="4031" r="35" fill="#e02020"/><text class="lbl" x="2400" y="4105">RPL25</text></g>
<g id="B-TDH1"><circle cx="2396" cy="3899" r="35" fill="#5aa25e"/><text class="lbl" x="2434" y="3975">TDH1</text></g>
<g id="B-RPA135"><circle cx="2413" cy="3765" r="36" fill="#5aa25e"/><text class="lbl" x="2452" y="3841">RPA135</text></g>
<g id="B-RPL11A"><circle cx="2413" cy="3632" r="36" fill="#b84848"/><text class="lbl" x="2452" y="3708">RPL11A</text></g>
<g id="B-RPL7A"><circle cx="2398" cy="3497" r="37" fill="#c04040"/><text class="lbl" x="2438" y="3576">RPL7A</text></g>
<g id="B-RPL7B"><circle cx="2364" cy="3367" r="38" fill="#c04040"/><text class="lbl" x="2404" y="3444">RPL7B</text></g>
</g>
</svg>
